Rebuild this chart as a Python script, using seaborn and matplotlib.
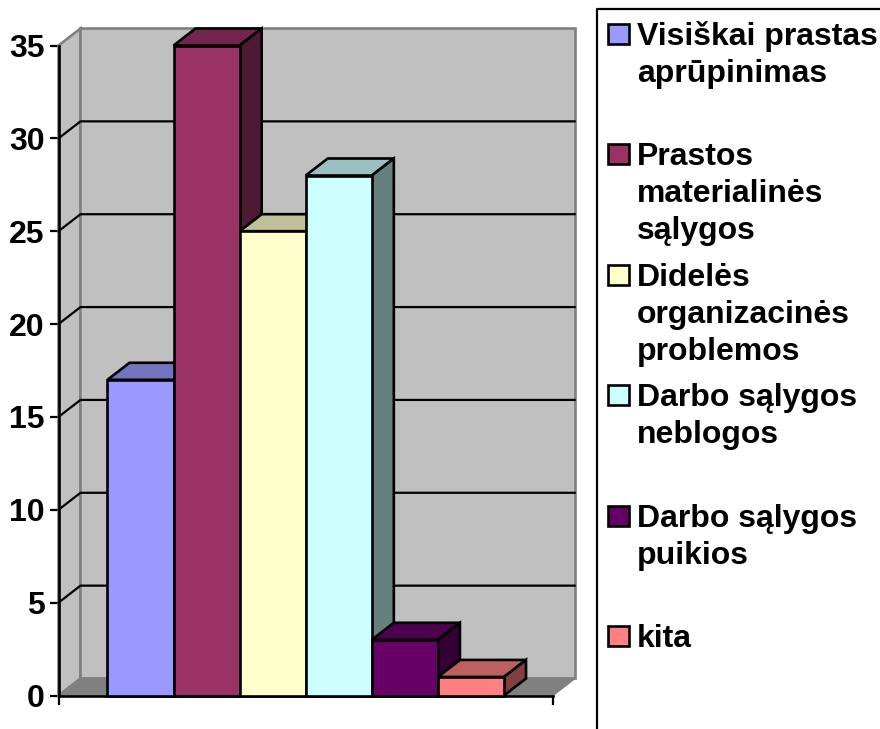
# 3D style column chart, the depth faces are worked out from the values
import matplotlib
matplotlib.use("Agg")
import seaborn as sns
from matplotlib import pyplot as plt
from matplotlib.colors import to_rgb
from matplotlib.patches import Polygon, Rectangle
from matplotlib.lines import Line2D

categories = [
    "Visiškai prastas aprūpinimas",
    "Prastos materialinės sąlygos",
    "Didelės organizacinės problemos",
    "Darbo sąlygos neblogos",
    "Darbo sąlygos puikios",
    "kita",
]
values = [17, 35, 25, 28, 3, 1]
colors = ["#9999FF", "#993366", "#FFFFCC", "#CCFFFF", "#660066", "#FF8080"]
y_ticks = [0, 5, 10, 15, 20, 25, 30, 35]
legend_lines = [
    ["Visiškai prastas", "aprūpinimas"],
    ["Prastos", "materialinės", "sąlygos"],
    ["Didelės", "organizacinės", "problemos"],
    ["Darbo sąlygos", "neblogos"],
    ["Darbo sąlygos", "puikios"],
    ["kita"],
]

W, H = 880, 729
LW = 1.9  # bar and swatch outlines
THIN = 1.6  # grid, axes and legend box

sns.set_theme(style="white")
plt.rcParams['font.family'] = ['Liberation Sans', 'DejaVu Sans']

fig = plt.figure(figsize=(W / 100, H / 100), dpi=100)
ax = fig.add_axes([58.5 / W, (H - 695.5) / H, 494.5 / W, 650 / H])
ax.patch.set_visible(False)

sns.barplot(x=categories, y=values, hue=categories, palette=colors, width=1, dodge=False,
            edgecolor="black", linewidth=LW, saturation=1, legend=False, ax=ax)

x0, x1 = -1.241, 6.241
ax.set_xlim(x0, x1)
ax.set_ylim(0, 35)
dx = 22 / 66.1  # depth in category units
dy = 17 / 18.57  # depth in value units


def shade(color, k):
    return tuple(c * k for c in to_rgb(color))


def face(points, fc, ec="black", z=1, lw=LW):
    ax.add_patch(Polygon(points, closed=True, fc=fc, ec=ec, lw=lw, zorder=z, clip_on=False))


# walls and floor
top = y_ticks[-1]
face([(x0, 0), (x0 + dx, dy), (x0 + dx, top + dy), (x0, top)], "#C0C0C0", ec="#808080", z=1)
face([(x0 + dx, dy), (x1 + dx, dy), (x1 + dx, top + dy), (x0 + dx, top + dy)], "#C0C0C0", ec="#808080", z=1)
face([(x0, 0), (x1, 0), (x1 + dx, dy), (x0 + dx, dy)], "#808080", ec="#808080", z=1, lw=1)

# grid lines run along the side wall and then the back wall
for v in y_ticks[1:-1]:
    ax.add_line(Line2D([x0, x0 + dx, x1 + dx], [v, v + dy, v + dy], color="black", lw=THIN,
                       zorder=2, clip_on=False))

# bars, left to right so each one covers the side face of the one before
for i, (bar, val, col) in enumerate(zip(ax.patches, values, colors)):
    left, right = bar.get_x(), bar.get_x() + bar.get_width()
    z = 3 + i
    bar.set_zorder(z + 0.5)
    bar.set_clip_on(False)
    face([(left, val), (right, val), (right + dx, val + dy), (left + dx, val + dy)], shade(col, 0.75), z=z)
    face([(right, 0), (right + dx, dy), (right + dx, val + dy), (right, val)], shade(col, 0.5), z=z)

# axes
sns.despine(ax=ax, top=True, right=True)
for side in ["left", "bottom"]:
    ax.spines[side].set_color("black")
    ax.spines[side].set_linewidth(LW)
    ax.spines[side].set_zorder(2.5)
ax.set_yticks(y_ticks)
ax.set_xticks([x0, x1])
ax.set_xticklabels(["", ""])
ax.tick_params(axis="both", direction="out", length=6.5, width=THIN, color="black", bottom=True, left=True)
ax.tick_params(axis="y", pad=3.6, labelsize=23, labelcolor="black")
for lab in ax.get_yticklabels():
    lab.set_fontweight("bold")
ax.set_xlabel("")
ax.set_ylabel("")

# legend box, cut off by the right and bottom of the picture
fig.add_artist(Line2D([597 / W, 597 / W, 1], [0, (H - 9) / H, (H - 9) / H], color="black", lw=THIN))
for i, (lines, col) in enumerate(zip(legend_lines, colors)):
    yc = 34 + i * 120.4
    fig.add_artist(Rectangle((608 / W, (H - yc - 10) / H), 21 / W, 20 / H, fc=col, ec="black", lw=LW))
    for j, line in enumerate(lines):
        fig.text(637 / W, (H - (yc + 11 + j * 37)) / H, line, fontsize=23, fontweight="bold",
                 color="black", ha="left", va="baseline")

fig.savefig("out.png", dpi=100)
